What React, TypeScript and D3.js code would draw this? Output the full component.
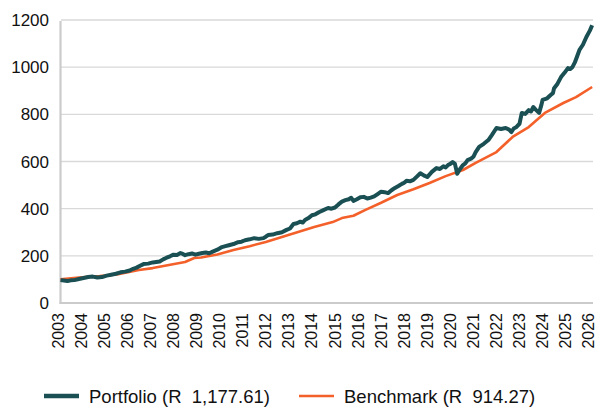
import React, { useEffect, useRef } from 'react';
import * as d3 from 'd3';

// portfolio growth of R100 (decimal year, value)
const portfolioYears = [
  2003.0, 2003.15, 2003.3, 2003.45, 2003.6, 2003.8, 2004.0, 2004.2, 2004.4, 2004.6,
  2004.8, 2005.0, 2005.2, 2005.4, 2005.6, 2005.8, 2006.0, 2006.15, 2006.3, 2006.45,
  2006.6, 2006.8, 2007.0, 2007.15, 2007.3, 2007.45, 2007.6, 2007.75, 2007.9, 2008.05,
  2008.2, 2008.3, 2008.4, 2008.55, 2008.7, 2008.85, 2009.0, 2009.15, 2009.3, 2009.45,
  2009.6, 2009.8, 2010.0, 2010.15, 2010.3, 2010.5, 2010.7, 2010.85, 2011.0, 2011.2,
  2011.4, 2011.6, 2011.8, 2011.9, 2012.0, 2012.2, 2012.4, 2012.6, 2012.8, 2012.95,
  2013.1, 2013.25, 2013.4, 2013.5, 2013.6, 2013.75, 2013.9, 2014.05, 2014.2, 2014.4,
  2014.6, 2014.75, 2014.9, 2015.05, 2015.2, 2015.35, 2015.5, 2015.6, 2015.7, 2015.85,
  2016.0, 2016.15, 2016.3, 2016.45, 2016.6, 2016.75, 2016.9, 2017.05, 2017.2, 2017.35,
  2017.5, 2017.65, 2017.8, 2017.9, 2018.0, 2018.15, 2018.3, 2018.45, 2018.6, 2018.75,
  2018.9, 2019.1, 2019.3, 2019.45, 2019.6, 2019.7, 2019.8, 2019.9, 2020.0, 2020.1,
  2020.2, 2020.3, 2020.45, 2020.55, 2020.65, 2020.8, 2020.9, 2021.0, 2021.15, 2021.35,
  2021.55, 2021.7, 2021.9, 2022.1, 2022.3, 2022.45, 2022.55, 2022.65, 2022.75, 2022.9,
  2023.0, 2023.15, 2023.3, 2023.4, 2023.5, 2023.6, 2023.75, 2023.85, 2023.9, 2024.1,
  2024.25, 2024.35, 2024.4, 2024.55, 2024.7, 2024.85, 2025.0, 2025.1, 2025.2, 2025.3,
  2025.5, 2025.65, 2025.8, 2025.95, 2026.05,
];
const portfolioValues = [
  97, 95, 93, 96, 97, 102, 106, 110, 112, 108,
  110, 116, 120, 124, 130, 133, 138, 145, 150, 158,
  165, 167, 172, 174, 176, 185, 192, 198, 205, 204,
  212, 208, 203, 207, 210, 205, 209, 212, 214, 211,
  218, 226, 237, 241, 245, 250, 258, 260, 266, 270,
  275, 272, 275, 281, 288, 290, 296, 300, 310, 316,
  335, 338, 345, 341, 352, 360, 372, 376, 385, 394,
  403, 400, 405, 418, 430, 436, 440, 446, 433, 440,
  448, 450, 443, 447, 452, 462, 472, 470, 466, 478,
  488, 496, 505, 510, 518, 516, 522, 536, 550, 541,
  534, 556, 572, 568, 580, 575, 585, 590, 598, 590,
  548, 565, 585, 592, 606, 612, 620, 640, 662, 675,
  691, 712, 742, 738, 742, 735, 725, 740, 745, 760,
  806, 802, 818, 812, 831, 820, 806, 840, 861, 868,
  882, 890, 911, 930, 958, 976, 996, 992, 1001, 1020,
  1073, 1095, 1128, 1155, 1178,
];

const benchmarkYears = [
  2003.0, 2003.8, 2004.7, 2005.5, 2006.4, 2007.0, 2007.7, 2008.4, 2008.8, 2009.1,
  2009.8, 2010.5, 2011.2, 2011.9, 2012.6, 2013.3, 2014.0, 2014.8, 2015.2, 2015.7,
  2016.2, 2016.9, 2017.6, 2018.3, 2019.0, 2019.7, 2020.45, 2021.0, 2021.9, 2022.6,
  2023.3, 2024.0, 2024.8, 2025.35, 2026.05,
];
const benchmarkValues = [
  100, 108, 114, 122, 140, 148, 161, 174, 191, 193,
  206, 225, 241, 259, 280, 301, 322, 343, 360, 370,
  394, 425, 458, 482, 509, 538, 564, 594, 640, 704,
  746, 806, 848, 873, 916,
];

const yTicks = [0, 200, 400, 600, 800, 1000, 1200];
const xTicks = d3.range(2003, 2027);
const legendLabels = ['Portfolio (R  1,177.61)', 'Benchmark (R  914.27)'];

const W = 597;
const H = 410;
const FONT = '"Liberation Sans", Arial, sans-serif';

const App = () => {
  const ref = useRef<SVGSVGElement>(null);

  useEffect(() => {
    const svg = d3.select(ref.current);
    svg.selectAll('*').remove();

    const x = d3.scaleLinear().domain([2003, 2026]).range([60.5, 591]);
    const y = d3.scaleLinear().domain([0, 1200]).range([303, 20]);

    // gridlines
    svg.append('g')
      .selectAll('line')
      .data(yTicks.slice(1))
      .enter()
      .append('line')
      .attr('x1', 61)
      .attr('x2', 593)
      .attr('y1', (d) => y(d))
      .attr('y2', (d) => y(d))
      .style('stroke', '#d9d9d9')
      .style('stroke-width', 1.3);

    // axis lines
    svg.append('line')
      .attr('x1', 60.5).attr('x2', 60.5)
      .attr('y1', y(1200) + 1).attr('y2', y(0) + 1)
      .style('stroke', '#cbcbcb')
      .style('stroke-width', 2.2);
    svg.append('line')
      .attr('x1', 59.5).attr('x2', 593)
      .attr('y1', y(0)).attr('y2', y(0))
      .style('stroke', '#cbcbcb')
      .style('stroke-width', 2.2);

    // y labels
    svg.append('g')
      .selectAll('text')
      .data(yTicks)
      .enter()
      .append('text')
      .attr('x', 49)
      .attr('y', (d) => y(d))
      .attr('dy', '0.36em')
      .attr('text-anchor', 'end')
      .style('font-family', FONT)
      .style('font-size', '17px')
      .style('fill', '#111')
      .text((d) => d);

    // x labels, rotated
    svg.append('g')
      .selectAll('text')
      .data(xTicks)
      .enter()
      .append('text')
      .attr('transform', (d) => `translate(${x(d) - 2.5},313) rotate(-90)`)
      .attr('dy', '0.36em')
      .attr('text-anchor', 'end')
      .style('font-family', FONT)
      .style('font-size', '16px')
      .style('fill', '#111')
      .text((d) => d);

    const line = d3.line<[number, number]>()
      .x((d) => x(d[0]))
      .y((d) => y(d[1]));

    const benchmark = benchmarkYears.map((t, i) => [t, benchmarkValues[i]] as [number, number]);
    const portfolio = portfolioYears.map((t, i) => [t, portfolioValues[i]] as [number, number]);

    svg.append('path')
      .attr('d', line(benchmark))
      .style('fill', 'none')
      .style('stroke', '#f4602a')
      .style('stroke-width', 2.6)
      .style('stroke-linejoin', 'round');

    svg.append('path')
      .attr('d', line(portfolio))
      .style('fill', 'none')
      .style('stroke', '#1a5054')
      .style('stroke-width', 4)
      .style('stroke-linejoin', 'round');

    // legend
    const colors = ['#1a5054', '#f4602a'];
    const widths = [4.5, 2.6];
    const lx = [44, 299];
    const lg = svg.append('g')
      .selectAll('g')
      .data(legendLabels)
      .enter()
      .append('g')
      .attr('transform', (d, i) => `translate(${lx[i]},396)`);
    lg.append('line')
      .attr('x1', 0).attr('x2', 35)
      .style('stroke', (d, i) => colors[i])
      .style('stroke-width', (d, i) => widths[i]);
    lg.append('text')
      .attr('x', 45)
      .attr('dy', '0.36em')
      .style('font-family', FONT)
      .style('font-size', '18.5px')
      .style('fill', '#111')
      .style('white-space', 'pre')
      .text((d) => d);
  }, []);

  return (
    <svg
      ref={ref}
      width={W}
      height={H}
      style={{ position: 'absolute', left: 0, top: 0, background: '#fff' }}
    />
  );
};

export default App;
